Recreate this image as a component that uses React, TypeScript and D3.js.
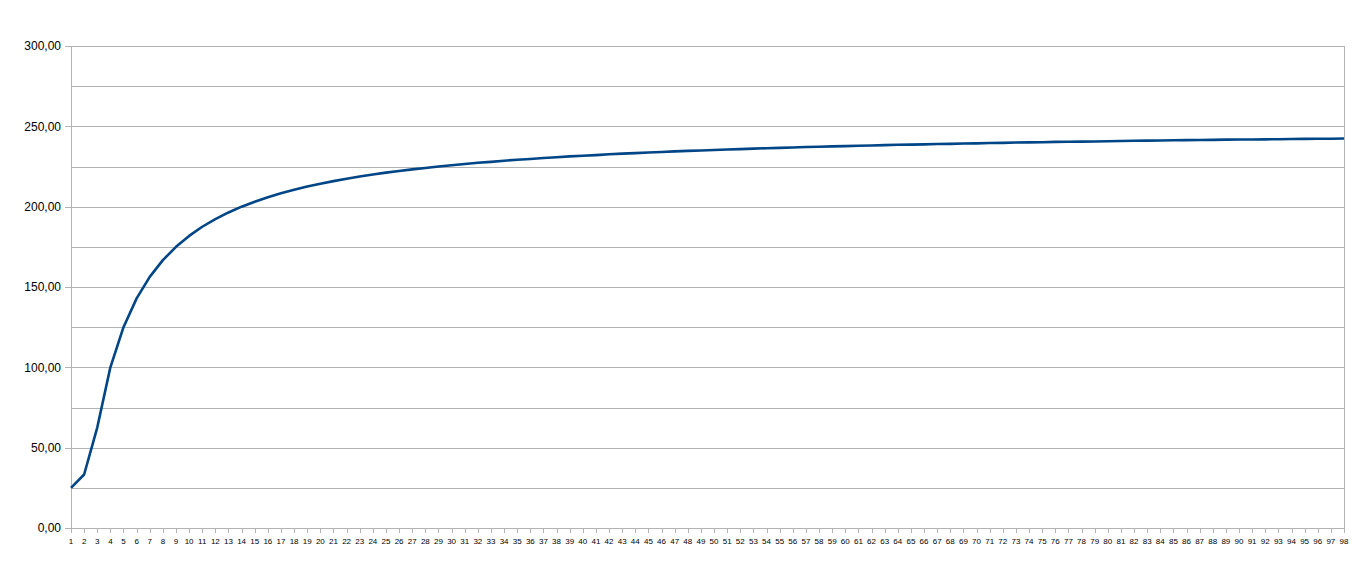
import React from "react";
import * as d3 from "d3";

const categories: number[] = Array.from({ length: 98 }, (_, i) => i + 1);
const values: number[] = [
  25.0, 33.3, 62.5, 100.0, 125.0, 142.9, 156.3, 166.7, 175.0, 181.8,
  187.5, 192.3, 196.4, 200.0, 203.1, 205.9, 208.3, 210.5, 212.5, 214.3,
  215.9, 217.4, 218.8, 220.0, 221.2, 222.2, 223.2, 224.1, 225.0, 225.8,
  226.6, 227.3, 227.9, 228.6, 229.2, 229.7, 230.3, 230.8, 231.3, 231.7,
  232.1, 232.6, 233.0, 233.3, 233.7, 234.0, 234.4, 234.7, 235.0, 235.3,
  235.6, 235.8, 236.1, 236.4, 236.6, 236.8, 237.1, 237.3, 237.5, 237.7,
  237.9, 238.1, 238.3, 238.5, 238.6, 238.8, 239.0, 239.1, 239.3, 239.4,
  239.6, 239.7, 239.9, 240.0, 240.1, 240.3, 240.4, 240.5, 240.6, 240.7,
  240.9, 241.0, 241.1, 241.2, 241.3, 241.4, 241.5, 241.6, 241.7, 241.8,
  241.8, 241.9, 242.0, 242.1, 242.2, 242.3, 242.3, 242.4,
];
const yMajorTicks: number[] = [0, 50, 100, 150, 200, 250, 300];
const yGridTicks: number[] = [0, 25, 50, 75, 100, 125, 150, 175, 200, 225, 250, 275, 300];

const W = 1363;
const H = 563;
const left = 71;
const right = 1344;
const top = 46;
const bottom = 528;

export default function App() {
  const x = d3.scaleLinear().domain([1, 98]).range([left, right]);
  const y = d3.scaleLinear().domain([0, 300]).range([bottom, top]);
  const line = d3
    .line<number>()
    .x((_, i) => x(categories[i]))
    .y((d) => y(d));
  const fmt = (v: number) => v.toFixed(2).replace(".", ",");
  const grid = "#b3b3b3";

  return (
    <svg
      width={W}
      height={H}
      style={{ position: "absolute", left: 0, top: 0, background: "#fff" }}
      fontFamily="'Liberation Sans', Arial, sans-serif"
    >
      {yGridTicks.map((t) => (
        <line
          key={"g" + t}
          x1={left}
          x2={right}
          y1={Math.round(y(t)) + 0.5}
          y2={Math.round(y(t)) + 0.5}
          stroke={grid}
          strokeWidth={1}
        />
      ))}
      <line x1={left + 0.5} x2={left + 0.5} y1={top} y2={bottom + 0.5} stroke={grid} />
      <line x1={right + 0.5} x2={right + 0.5} y1={top} y2={bottom + 0.5} stroke={grid} />
      {yMajorTicks.map((t) => (
        <g key={"y" + t}>
          <line
            x1={left - 6}
            x2={left}
            y1={Math.round(y(t)) + 0.5}
            y2={Math.round(y(t)) + 0.5}
            stroke={grid}
          />
          <text
            x={61}
            y={y(t)}
            dy="0.35em"
            textAnchor="end"
            fontSize={12}
            fill="#000"
          >
            {fmt(t)}
          </text>
        </g>
      ))}
      {categories.map((c) => (
        <g key={"x" + c}>
          <line
            x1={Math.round(x(c)) + 0.5}
            x2={Math.round(x(c)) + 0.5}
            y1={bottom}
            y2={bottom + 5}
            stroke={grid}
          />
          <text
            x={x(c)}
            y={544}
            textAnchor="middle"
            fontSize={8}
            fill="#000"
          >
            {c}
          </text>
        </g>
      ))}
      <path
        d={line(values) || ""}
        fill="none"
        stroke="#004586"
        strokeWidth={2.6}
        strokeLinejoin="round"
      />
    </svg>
  );
}
